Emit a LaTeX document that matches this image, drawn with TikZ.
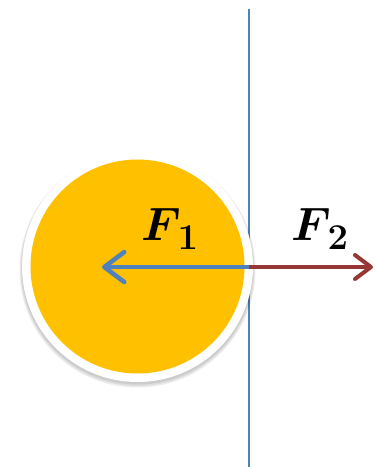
\documentclass[tikz,border=0pt]{standalone}
\usepackage{amsmath,bm}
\usetikzlibrary{arrows.meta}
\definecolor{ballyellow}{RGB}{255,192,0}
\definecolor{wallblue}{RGB}{79,129,189}
\definecolor{arrowblue}{RGB}{79,129,189}
\definecolor{arrowred}{RGB}{150,55,53}
\newcommand{\forcelbl}[1]{\scalebox{1.88}{\Huge$\bm{F}$\kern-1.8pt\raisebox{-5.3pt}{\scalebox{1.12}{\LARGE$\mathbf{#1}$}}}}
\tikzset{
  forcelabel/.style={inner sep=0pt, anchor=base west},
  forcearrow/.style={line width=4.5pt, -{Straight Barb[length=20pt,width=30pt,line cap=round,line join=round]}},
  redarrow/.style={line width=4pt, -{Straight Barb[length=16pt,width=24pt,line cap=round,line join=round]}},
  shadowring/.style={fill=black, opacity=0.07},
}
\begin{document}
\begin{tikzpicture}[x=1pt,y=-1pt]
\useasboundingbox (0,0) rectangle (375,467);
% wall
\coordinate (walltop) at (249,8.5);
\coordinate (wallbot) at (249,467);
\draw[wallblue, line width=1.8pt] (walltop) -- (wallbot);
% ball with white rim and soft shadow
\fill[shadowring] (137.5,269.5) circle (118);
\fill[shadowring] (137.5,269) circle (117);
\fill[shadowring] (137.5,268.5) circle (116);
\node[circle, fill=white, minimum size=231pt, inner sep=0pt] (rim) at (137.5,266.5) {};
\node[circle, fill=ballyellow, minimum size=214pt, inner sep=0pt] (ball) at (137.5,266.5) {};
% forces
\coordinate (contact) at (249,267);
\coordinate (tip1) at (102,267);
\coordinate (tip2) at (373,267);
\draw[redarrow, arrowred] (contact) -- (tip2);
\draw[forcearrow, arrowblue] (contact) -- (tip1);
\node[forcelabel] (f1) at (141,240) {\forcelbl{1}};
\node[forcelabel] (f2) at (291,240) {\forcelbl{2}};
\end{tikzpicture}
\end{document}
